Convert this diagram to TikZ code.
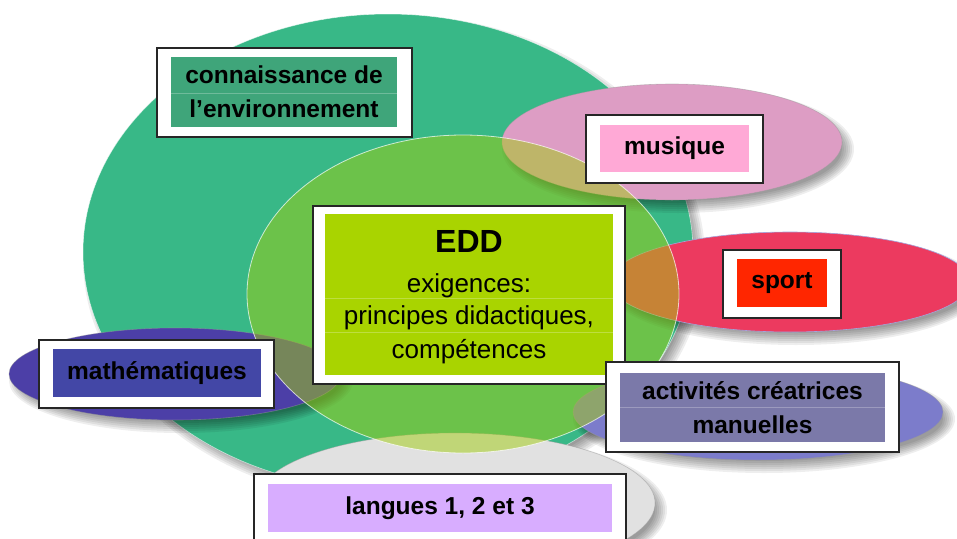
\documentclass[tikz,border=0pt]{standalone}
\usepackage{fontspec}
\setmainfont{Liberation Sans}
\definecolor{tealE}{RGB}{56,184,135}
\definecolor{greenC}{RGB}{161,205,15}
\definecolor{pinkE}{RGB}{221,157,196}
\definecolor{redE}{RGB}{236,58,95}
\definecolor{blueE}{RGB}{76,63,167}
\definecolor{periE}{RGB}{124,124,203}
\definecolor{greyE}{RGB}{225,225,225}
\definecolor{inConn}{RGB}{63,165,122}
\definecolor{inEdd}{RGB}{169,212,0}
\definecolor{inMus}{RGB}{255,169,214}
\definecolor{inSport}{RGB}{255,38,0}
\definecolor{inMath}{RGB}{67,71,166}
\definecolor{inAct}{RGB}{123,121,169}
\definecolor{inLang}{RGB}{216,173,255}
\newcommand{\mylbl}{\fontsize{24.5}{34}\selectfont\bfseries}
% soft drop shadow under an ellipse: centre x, centre y, x radius, y radius
\newcommand{\mysoftsh}[4]{%
  \foreach \k in {0,...,6}{%
    \fill[shadowlayer] ({#1+6},{#2-7}) ellipse [x radius={#3+6-2*\k}, y radius={#4+6-2*\k}];}}
\begin{document}
\begin{tikzpicture}[x=1pt,y=1pt,
  shadowlayer/.style={black,opacity=0.065},
  rim/.style={draw=black!40,draw opacity=0.5,line width=0.6pt},
  frame/.style={draw=black!85,line width=1.5pt,fill=white,inner sep=0pt,outer sep=0pt},
  panel/.style={inner sep=0pt,outer sep=0pt,align=center,font=\mylbl,text=black},
  rowline/.style={draw=white,draw opacity=0.25,line width=0.8pt},
  eddtxt/.style={font=\fontsize{26}{33}\selectfont,anchor=base,inner sep=0pt,text=black}
]
\useasboundingbox (0,0) rectangle (957,-538);
\fill[white] (0,0) rectangle (957,-538);

% background ellipses with soft shadows
\mysoftsh{388}{-252}{305}{238}
\path[fill=tealE,draw=white,draw opacity=0.6,line width=0.6pt] (388,-252) ellipse [x radius=305,y radius=238];
\mysoftsh{672}{-142}{170}{58}
\path[fill=pinkE,rim] (672,-142) ellipse [x radius=170,y radius=58];
\mysoftsh{790}{-282}{180}{50}
\path[fill=redE,draw=periE!70,line width=0.6pt] (790,-282) ellipse [x radius=180,y radius=50];
\mysoftsh{175}{-374}{166}{46}
\path[fill=blueE,rim] (175,-374) ellipse [x radius=166,y radius=46];
\mysoftsh{758}{-412}{185}{48}
\path[fill=periE,rim] (758,-412) ellipse [x radius=185,y radius=48];
\mysoftsh{455}{-503}{200}{70}
\path[fill=greyE,rim] (455,-503) ellipse [x radius=200,y radius=70];
% central translucent ellipse
\path[fill=greenC,fill opacity=0.5,draw=white,draw opacity=0.7,line width=0.8pt] (463,-294) ellipse [x radius=216,y radius=159];

% connaissance de l'environnement
\node[frame,minimum width=255,minimum height=89] (connF) at (284.5,-92.5) {};
\node[panel,fill=inConn,minimum width=226,minimum height=70] (conn) at (284,-92) {connaissance de\\l’environnement};
\draw[rowline] (conn.west |- 0,-93) -- (conn.east |- 0,-93);

% EDD
\node[frame,minimum width=312,minimum height=178] (eddF) at (469,-295) {};
\node[panel,fill=inEdd,minimum width=288,minimum height=161] (edd) at (469,-294.5) {};
\draw[rowline] (edd.west |- 0,-298) -- (edd.east |- 0,-298);
\draw[rowline] (edd.west |- 0,-332) -- (edd.east |- 0,-332);
\node[eddtxt,font=\fontsize{32}{36}\selectfont\bfseries] (eddT) at (469,-252) {EDD};
\node[eddtxt] (edd1) at (469,-292) {exigences:};
\node[eddtxt] (edd2) at (469,-324) {principes didactiques,};
\node[eddtxt] (edd3) at (469,-358) {compétences};

% musique
\node[frame,minimum width=177,minimum height=68] (musF) at (674.5,-149) {};
\node[panel,fill=inMus,minimum width=149,minimum height=47] (mus) at (674.5,-148.5) {musique};

% sport
\node[frame,minimum width=118,minimum height=68] (sportF) at (782,-284) {};
\node[panel,fill=inSport,minimum width=90,minimum height=48] (sport) at (782,-283) {sport};

% mathematiques
\node[frame,minimum width=235,minimum height=68] (mathF) at (156.5,-374) {};
\node[panel,fill=inMath,minimum width=208,minimum height=48] (math) at (157,-373) {mathématiques};

% activites creatrices manuelles
\node[frame,minimum width=293,minimum height=90] (actF) at (752.5,-407) {};
\node[panel,fill=inAct,minimum width=265,minimum height=69] (act) at (752.5,-407.5) {activités créatrices\\manuelles};
\draw[rowline] (act.west |- 0,-407) -- (act.east |- 0,-407);

% langues
\node[frame,minimum width=372,minimum height=86] (langF) at (440,-517) {};
\node[panel,fill=inLang,minimum width=344,minimum height=48] (lang) at (440,-508) {langues 1, 2 et 3};
\end{tikzpicture}
\end{document}
